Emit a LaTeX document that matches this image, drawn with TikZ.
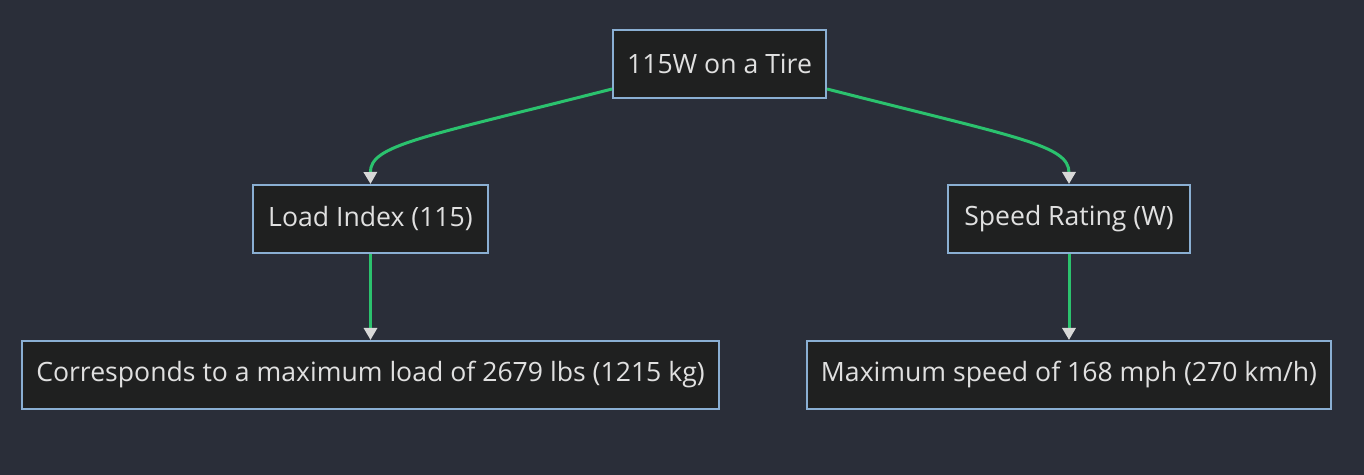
\documentclass[tikz,border=0pt]{standalone}
\usepackage{fontspec}
\setmainfont{Open Sans}
\usetikzlibrary{arrows.meta,calc}
\definecolor{bgc}{HTML}{2A2E39}
\definecolor{boxfill}{HTML}{1F2020}
\definecolor{boxline}{HTML}{8AAFD3}
\definecolor{txt}{HTML}{E0E0E0}
\definecolor{edge}{HTML}{2BC26E}
\definecolor{tipc}{HTML}{D8D8D8}
\tikzset{
  box/.style={draw=boxline, fill=boxfill, line width=1pt, text=txt, font=\fontsize{13.3}{15}\selectfont, minimum height=34pt, inner sep=0pt, anchor=center},
  conn/.style={draw=edge, line width=1.5pt, -{Triangle[length=6pt,width=6.5pt,fill=tipc,color=tipc]}},
}
\begin{document}
\begin{tikzpicture}[x=0.5pt,y=-0.5pt]
\fill[bgc] (0,0) rectangle (1364,475);
\useasboundingbox (0,0) rectangle (1364,475);
\node[box, minimum width=106.5pt] (top) at (719.5,64) {115W on a Tire};
\node[box, minimum width=117.5pt] (load) at (370.5,219) {Load Index (115)};
\node[box, minimum width=121pt] (speed) at (1069,219) {Speed Rating (W)};
\node[box, minimum width=348.5pt] (corr) at (370.5,375) {Corresponds to a maximum load of 2679 lbs (1215 kg)};
\node[box, minimum width=262pt] (maxs) at (1069,375) {Maximum speed of 168 mph (270 km/h)};
\draw[conn] ($(top.south west)+(0,-10)$) .. controls (420,138) and (370,145) .. (load.north);
\draw[conn] ($(top.south east)+(0,-10)$) .. controls (1019,138) and (1069,145) .. (speed.north);
\draw[conn] (load.south) -- (corr.north);
\draw[conn] (speed.south) -- (maxs.north);
\end{tikzpicture}
\end{document}
